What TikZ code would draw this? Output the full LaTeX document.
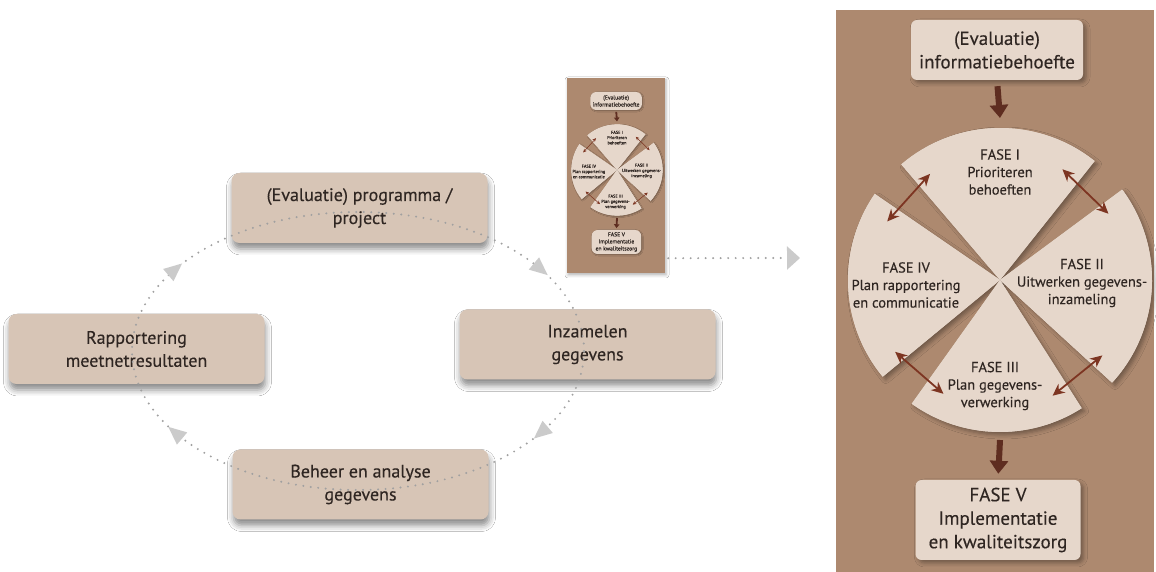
\documentclass[tikz,border=0pt]{standalone}
\usepackage{fontspec}
\setmainfont{PT Sans}[BoldFont={PT Sans}, BoldFeatures={FakeBold=0.3}]
\usetikzlibrary{arrows.meta,shadows.blur}
\definecolor{panelbg}{HTML}{AD896F}
\definecolor{piecec}{HTML}{E6D7CB}
\definecolor{lboxc}{HTML}{D7C5B6}
\definecolor{txtc}{HTML}{2F2622}
\definecolor{thickc}{HTML}{5E2D20}
\definecolor{darrc}{HTML}{7D3522}
\definecolor{dotc}{HTML}{A0A0A0}
\definecolor{cyctipc}{HTML}{CBCBCB}
\tikzset{
  lbox/.style={rectangle, rounded corners=8pt, fill=lboxc, minimum width=256pt,
    minimum height=70pt, text=txtc, align=center, inner sep=0pt,
    font=\fontsize{18}{23}\selectfont\bfseries,
    blur shadow={shadow xshift=1pt, shadow yshift=-6pt, shadow blur radius=6pt, shadow opacity=45}},
  dotline/.style={line width=2.2pt, dash pattern=on 0pt off 7.5pt, line cap=round, color=dotc},
  cyctip/.style={fill=cyctipc},
  pbox/.style={rectangle, rounded corners=6pt, fill=piecec, text=txtc, align=center,
    inner sep=0pt, font=\fontsize{19}{23.5}\selectfont\bfseries},
  ptext/.style={text=txtc, align=center, inner sep=0pt, font=\fontsize{14.5}{17.5}\selectfont\bfseries},
}
\newcommand\panelcontent[1]{%
  \pgfmathsetlengthmacro\pThin{1.8pt*#1}%
  \pgfmathsetlengthmacro\pThick{6pt*#1}%
  \pgfmathsetlengthmacro\pSl{12pt*#1}%
  \pgfmathsetlengthmacro\pSw{11pt*#1}%
  \pgfmathsetlengthmacro\pTl{13pt*#1}%
  \pgfmathsetlengthmacro\pTw{18pt*#1}%
  \pgfmathsetlengthmacro\pSh{3pt*#1}%
  \pgfmathsetlengthmacro\pShB{4pt*#1}%
  \pgfmathsetlengthmacro\pShort{6pt*#1}%
  \tikzset{
    pshadow/.style={blur shadow={shadow xshift=\pSh, shadow yshift=-\pSh, shadow blur radius=\pShB, shadow opacity=35}},
    tarr/.style={line width=\pThick, color=thickc, -{Triangle[length=\pTl,width=\pTw]}},
    darr/.style={line width=\pThin, color=darrc, {Stealth[length=\pSl,width=\pSw]}-{Stealth[length=\pSl,width=\pSw]}},
  }%
  \foreach \a/\b in {51.5/130.5,145.5/219.5,234.5/302.5,-42.5/36.5}
    \fill[piecec, pshadow] (0,0) -- (\a:152) arc[start angle=\a, end angle=\b, radius=152] -- cycle;
  \foreach \a/\b in {51.5/130.5,145.5/219.5,234.5/302.5,-42.5/36.5}
    \fill[piecec] (0,0) -- (\a:152) arc[start angle=\a, end angle=\b, radius=152] -- cycle;
  \node[pbox, minimum width=172pt, minimum height=60pt, pshadow] (info) at (-3,230) {(Evaluatie)\\informatiebehoefte};
  \node[pbox, minimum width=165pt, minimum height=80pt, pshadow] (f5) at (-2,-240) {FASE V\\Implementatie\\en kwaliteitszorg};
  \node[ptext] (f1) at (0,108) {FASE I\\Prioriteren\\behoeften};
  \node[ptext] (f2) at (82,-3) {FASE II\\Uitwerken gegevens-\\inzameling};
  \node[ptext] (f3) at (-5,-106) {FASE III\\Plan gegevens-\\verwerking};
  \node[ptext] (f4) at (-94,-5) {FASE IV\\Plan rapportering\\en communicatie};
  \coordinate (ctop) at (0,162);
  \coordinate (cbot) at (0,-160);
  \draw[tarr, shorten <=\pShort] (info.south) -- (ctop);
  \draw[tarr, shorten >=\pShort] (cbot) -- (f5.north);
  \foreach \p [count=\i] in {138,46,229,309} {
    \coordinate (d\i a) at ([shift={(\p+90:32)}]\p:123);
    \coordinate (d\i b) at ([shift={(\p-90:32)}]\p:123);
    \draw[darr] (d\i a) -- (d\i b);
  }
}
\begin{document}
\begin{tikzpicture}[x=1pt,y=1pt]
\useasboundingbox (0,0) rectangle (1156,572);
\fill[white] (0,0) rectangle (1156,572);

% left cycle
\node[lbox] (ltop) at (359.5,364) {(Evaluatie) programma /\\project};
\node[lbox] (lleft) at (136.5,223) {Rapportering\\meetnetresultaten};
\node[lbox] (lright) at (587.5,227.5) {Inzamelen\\gegevens};
\node[lbox] (lbot) at (360.5,87.5) {Beheer en analyse\\gegevens};
\draw[dotline] (358,221) ellipse [x radius=226pt, y radius=139pt];
\fill[cyctip, shift={(540.8,302.7)}, rotate=-40.2] (9,0) -- (-9,8) -- (-9,-8) -- cycle;
\fill[cyctip, shift={(540.8,139.3)}, rotate=220.2] (9,0) -- (-9,8) -- (-9,-8) -- cycle;
\fill[cyctip, shift={(175.2,139.3)}, rotate=139.8] (9,0) -- (-9,8) -- (-9,-8) -- cycle;
\fill[cyctip, shift={(175.2,302.7)}, rotate=40.2] (9,0) -- (-9,8) -- (-9,-8) -- cycle;

% thumbnail
\node[rectangle, fill=panelbg, minimum width=98pt, minimum height=195pt, inner sep=0pt,
  blur shadow={shadow xshift=1pt, shadow yshift=-2pt, shadow blur radius=3pt, shadow opacity=30}] (thumb) at (616,396.5) {};
\begin{scope}[shift={(617,402)}, scale=0.3, transform shape, name prefix=small-]
  \panelcontent{0.3}
\end{scope}
\coordinate (arrend) at (800,314);
\draw[dotline, -{Triangle[length=13pt,width=23pt,color=cyctipc,fill=cyctipc]}] ([xshift=3pt,yshift=15pt]thumb.south east) -- (arrend);

% right panel
\fill[panelbg] (836,0) rectangle (1154,562);
\begin{scope}[shift={(1000,292)}, transform shape, name prefix=big-]
  \panelcontent{1}
\end{scope}
\end{tikzpicture}
\end{document}
